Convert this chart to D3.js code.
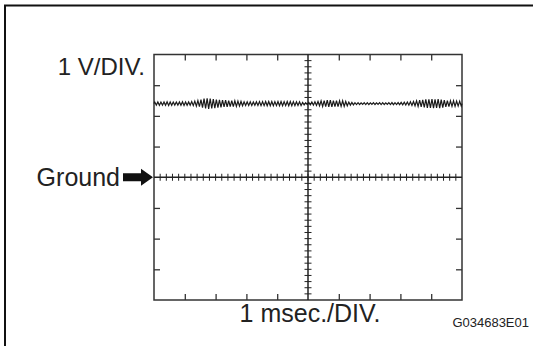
<!DOCTYPE html>
<html>
<head>
<meta charset="utf-8">
<script src="https://cdn.jsdelivr.net/npm/d3@7"></script>
<style>
  body { margin: 0; background: #fff; }
  svg { display: block; font-family: "Liberation Sans", Arial, sans-serif; }
</style>
</head>
<body>
<div id="chart"></div>
<script>
const w = 535;
const h = 346;

// scope settings
const timeDomain = [0, 10];      // ms, 1 msec./DIV.
const voltDomain = [-4, 4];      // V, 1 V/DIV., ground at centre
const majorX = [1, 2, 3, 4, 6, 7, 8, 9];
const majorY = [-3, -2, -1, 1, 2, 3];

// signal: level (V) and amplitude of each 0.1 ms ripple cycle (V)
const level = 2.4;
const cyclePeriod = 0.1;
const ripple = [
  0.05, 0.055, 0.05, 0.055, 0.06, 0.055, 0.05, 0.05, 0.055, 0.06,
  0.055, 0.055, 0.065, 0.08, 0.1, 0.13, 0.16, 0.17, 0.16, 0.15,
  0.13, 0.12, 0.11, 0.11, 0.1, 0.1, 0.09, 0.08, 0.07, 0.06,
  0.06, 0.06, 0.055, 0.06, 0.065, 0.065, 0.07, 0.07, 0.07, 0.065,
  0.07, 0.07, 0.065, 0.07, 0.07, 0.065, 0.06, 0.06, 0.04, 0.03,
  0.04, 0.05, 0.06, 0.07, 0.09, 0.1, 0.11, 0.11, 0.1, 0.1,
  0.09, 0.09, 0.07, 0.05, 0.04, 0.03, 0.03, 0.025, 0.03, 0.03,
  0.025, 0.03, 0.025, 0.03, 0.03, 0.025, 0.03, 0.035, 0.03, 0.035,
  0.04, 0.045, 0.05, 0.06, 0.07, 0.09, 0.11, 0.12, 0.14, 0.14,
  0.15, 0.14, 0.15, 0.13, 0.11, 0.1, 0.09, 0.09, 0.08, 0.08
];

const x = d3.scaleLinear().domain(timeDomain).range([154, 462]);
const y = d3.scaleLinear().domain(voltDomain).range([300, 54.5]);

const svg = d3.select("#chart").append("svg")
  .attr("width", w)
  .attr("height", h);

// outer frame (left and top edges)
svg.append("path")
  .attr("d", "M5,346 L5,5.5 L533,5.5")
  .attr("fill", "none")
  .attr("stroke", "#111")
  .attr("stroke-width", 2);

// screen border
svg.append("rect")
  .attr("x", x(0)).attr("y", y(4))
  .attr("width", x(10) - x(0))
  .attr("height", y(-4) - y(4))
  .attr("fill", "none")
  .attr("stroke", "#333")
  .attr("stroke-width", 1.5);

function tickStyle(g) {
  g.select(".domain").remove();
  g.selectAll("line").attr("stroke", "#333").attr("stroke-width", 1.3);
  g.selectAll("text").remove();
}

svg.append("g")
  .attr("transform", "translate(0," + y(4) + ")")
  .call(d3.axisTop(x).tickValues(majorX).tickSize(-6))
  .call(tickStyle);
svg.append("g")
  .attr("transform", "translate(0," + y(-4) + ")")
  .call(d3.axisBottom(x).tickValues(majorX).tickSize(-6))
  .call(tickStyle);
svg.append("g")
  .attr("transform", "translate(" + x(0) + ",0)")
  .call(d3.axisLeft(y).tickValues(majorY).tickSize(-6))
  .call(tickStyle);
svg.append("g")
  .attr("transform", "translate(" + x(10) + ",0)")
  .call(d3.axisRight(y).tickValues(majorY).tickSize(-6))
  .call(tickStyle);

// centre cross with 0.2 division minor ticks
const minorX = d3.range(0.2, 10, 0.2);
const minorY = d3.range(-3.8, 4, 0.2);
const cross = svg.append("g").attr("stroke", "#222");
cross.append("line")
  .attr("x1", x(0)).attr("x2", x(10))
  .attr("y1", y(0)).attr("y2", y(0))
  .attr("stroke-width", 1.5);
cross.append("line")
  .attr("x1", x(5)).attr("x2", x(5))
  .attr("y1", y(4)).attr("y2", y(-4))
  .attr("stroke-width", 1.5);
cross.selectAll(".mx")
  .data(minorX)
  .enter().append("line")
  .attr("x1", d => x(d)).attr("x2", d => x(d))
  .attr("y1", y(0) - 3.5).attr("y2", y(0) + 3.5)
  .attr("stroke-width", 1);
cross.selectAll(".my")
  .data(minorY)
  .enter().append("line")
  .attr("x1", x(5) - 3.5).attr("x2", x(5) + 3.5)
  .attr("y1", d => y(d)).attr("y2", d => y(d))
  .attr("stroke-width", 1);

// trace: one high and one low point per ripple cycle
const pts = [[0, level]];
ripple.forEach(function(a, i) {
  const t = i * cyclePeriod;
  pts.push([t + cyclePeriod * 0.25, level + a]);
  pts.push([t + cyclePeriod * 0.75, level - a]);
});
pts.push([10, level]);

svg.append("path")
  .datum(pts)
  .attr("fill", "none")
  .attr("stroke", "#1a1a1a")
  .attr("stroke-width", 1.2)
  .attr("d", d3.line().x(d => x(d[0])).y(d => y(d[1])));

// labels
svg.append("text")
  .attr("x", x(0) - 9).attr("y", y(4) + 20.5)
  .attr("text-anchor", "end")
  .attr("font-size", 24)
  .attr("fill", "#222")
  .text("1 V/DIV.");

svg.append("text")
  .attr("x", 120).attr("y", y(0) + 9)
  .attr("text-anchor", "end")
  .attr("font-size", 25)
  .attr("fill", "#222")
  .text("Ground");

// arrow pointing at the ground line
const gy = y(0);
svg.append("path")
  .attr("d", "M123," + (gy - 4) + " L141," + (gy - 4) + " L141," + (gy - 8.5) +
             " L153," + gy + " L141," + (gy + 8.5) + " L141," + (gy + 4) +
             " L123," + (gy + 4) + " Z")
  .attr("fill", "#111");

svg.append("text")
  .attr("x", x(5) + 2).attr("y", y(-4) + 21.5)
  .attr("text-anchor", "middle")
  .attr("font-size", 25)
  .attr("fill", "#222")
  .text("1 msec./DIV.");

svg.append("text")
  .attr("x", 529).attr("y", 327)
  .attr("text-anchor", "end")
  .attr("font-size", 13)
  .attr("fill", "#222")
  .text("G034683E01");
</script>
</body>
</html>
